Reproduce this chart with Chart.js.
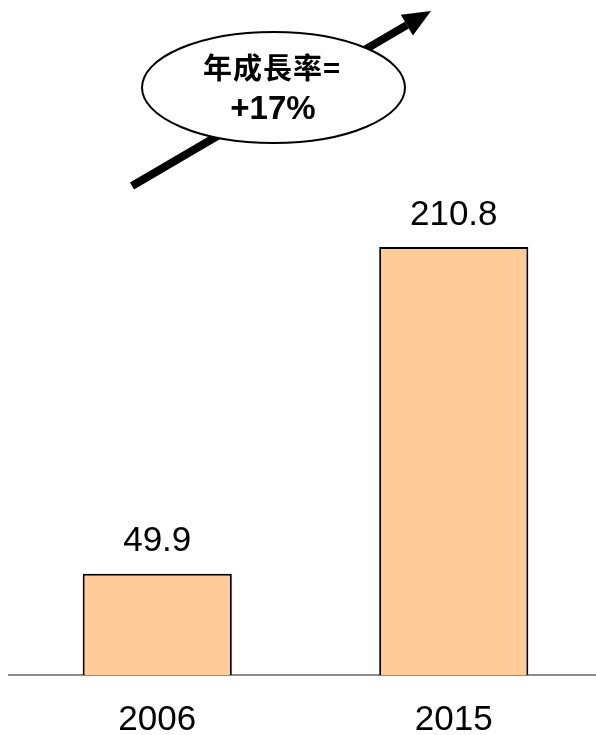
<!DOCTYPE html>
<html>
<head>
<meta charset="utf-8">
<script src="https://cdn.jsdelivr.net/npm/chart.js@4/dist/chart.umd.min.js"></script>
<style>
  html, body { margin: 0; padding: 0; background: #fff; overflow: hidden; }
  canvas { display: block; }
</style>
</head>
<body>
<canvas id="chart" width="602" height="735"></canvas>
<script>
const years = ['2006', '2015'];
const sales = [49.9, 210.8];
const growthLabel = ['年成長率=', '+17%'];

const barColor = '#FFCC99';
const axisColor = '#8c8c8c';

// value labels above each bar
const valueLabels = {
    id: 'valueLabels',
    afterDatasetsDraw(chart) {
        const ctx = chart.ctx;
        const meta = chart.getDatasetMeta(0);
        ctx.save();
        ctx.fillStyle = '#000';
        ctx.font = '35px "Liberation Sans", Arial, sans-serif';
        ctx.textAlign = 'center';
        ctx.textBaseline = 'middle';
        meta.data.forEach((bar, i) => {
            ctx.fillText(sales[i].toFixed(1), bar.x, bar.y - 32);
        });
        ctx.restore();
    }
};

// growth arrow + ellipse callout
const growthCallout = {
    id: 'growthCallout',
    afterDraw(chart) {
        const ctx = chart.ctx;
        ctx.save();
        const x1 = 132, y1 = 186, x2 = 431, y2 = 11;
        const ang = Math.atan2(y2 - y1, x2 - x1);
        const headLen = 28, headHalf = 12;
        const bx = x2 - headLen * Math.cos(ang), by = y2 - headLen * Math.sin(ang);
        ctx.strokeStyle = '#000';
        ctx.lineWidth = 8;
        ctx.beginPath();
        ctx.moveTo(x1, y1);
        ctx.lineTo(bx, by);
        ctx.stroke();
        ctx.fillStyle = '#000';
        ctx.beginPath();
        ctx.moveTo(x2, y2);
        ctx.lineTo(bx + headHalf * Math.sin(ang), by - headHalf * Math.cos(ang));
        ctx.lineTo(bx - headHalf * Math.sin(ang), by + headHalf * Math.cos(ang));
        ctx.closePath();
        ctx.fill();

        ctx.beginPath();
        ctx.ellipse(273.5, 87.5, 131.5, 55.5, 0, 0, Math.PI * 2);
        ctx.fillStyle = '#fff';
        ctx.fill();
        ctx.lineWidth = 2;
        ctx.strokeStyle = '#000';
        ctx.stroke();

        ctx.fillStyle = '#000';
        ctx.textAlign = 'center';
        ctx.textBaseline = 'middle';
        ctx.font = 'bold 29px "Noto Sans CJK TC", "Noto Sans CJK SC", sans-serif';
        ctx.letterSpacing = '1px';
        ctx.fillText(growthLabel[0], 272, 68);
        ctx.letterSpacing = '0px';
        ctx.font = 'bold 33px "Liberation Sans", Arial, sans-serif';
        ctx.fillText(growthLabel[1], 273, 110);
        ctx.restore();
    }
};

new Chart(document.getElementById('chart').getContext('2d'), {
    type: 'bar',
    data: {
        labels: years,
        datasets: [{
            data: sales,
            backgroundColor: barColor,
            borderColor: '#000',
            borderWidth: 2,
            borderSkipped: 'bottom',
            categoryPercentage: 1,
            barPercentage: 0.503
        }]
    },
    options: {
        responsive: false,
        devicePixelRatio: 1,
        animation: false,
        layout: { padding: { left: 9, right: 0, top: 0, bottom: 0 } },
        plugins: {
            legend: { display: false },
            tooltip: { enabled: false }
        },
        scales: {
            x: {
                z: 1,
                grid: { display: false, drawTicks: false },
                border: { display: true, color: axisColor, width: 2 },
                ticks: {
                    color: '#000',
                    padding: 24,
                    font: { family: '"Liberation Sans", Arial, sans-serif', size: 35 }
                },
                afterFit(scale) { scale.height = 60; }
            },
            y: {
                display: false,
                min: 0,
                max: 332.5
            }
        }
    },
    plugins: [valueLabels, growthCallout]
});
</script>
</body>
</html>
